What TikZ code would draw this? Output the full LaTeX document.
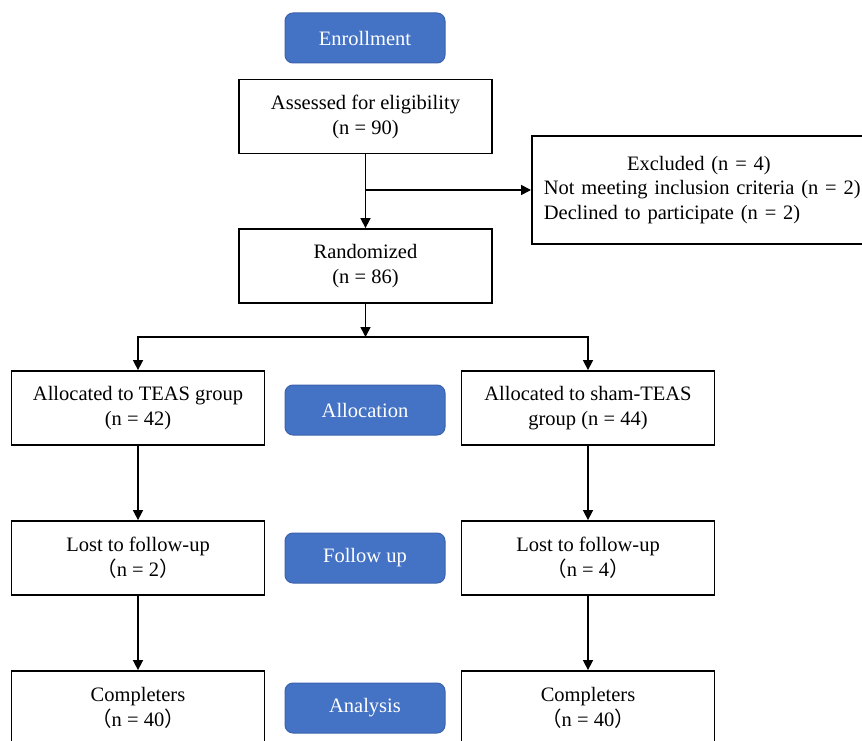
\documentclass[tikz,border=0pt]{standalone}
\usepackage{fontspec}
\setmainfont{Liberation Serif}
\newfontfamily\cjkfont{Noto Sans CJK SC}
\usetikzlibrary{arrows.meta}
\definecolor{btnblue}{HTML}{4472C4}
\definecolor{btnedge}{HTML}{3B63AE}
\newcommand{\lp}{{\cjkfont （}}
\newcommand{\rp}{{\cjkfont ）}}
\tikzset{
  box/.style={draw=black, line width=1.8pt, minimum width=253pt, minimum height=74pt,
    inner sep=0pt, align=center, font=\fontsize{20.5}{25}\selectfont},
  btn/.style={draw=btnedge, line width=1pt, fill=btnblue, rounded corners=8pt,
    minimum width=160pt, minimum height=50pt, inner sep=0pt, text=white,
    font=\fontsize{20.5}{25}\selectfont},
  arr/.style={line width=1.6pt, -{Triangle[length=10pt,width=10pt]}},
  ln/.style={line width=1.6pt}
}
\begin{document}
\begin{tikzpicture}[x=1pt,y=-1pt]
\clip (0,0) rectangle (862,741);
\useasboundingbox (0,0) rectangle (862,741);
\fill[white] (0,0) rectangle (862,741);

\node[btn] (enroll) at (365,38) {Enrollment};
\node[box] (assess) at (365.5,116.5) {Assessed for eligibility\\(n = 90)};
\node[box, anchor=west, minimum width=380pt, minimum height=108pt, align=left,
      text width=356pt, inner xsep=12pt, font=\fontsize{20.5}{24.5}\selectfont]
      (excl) at (531,190)
      {\makebox[310pt][c]{Excluded (n = 4)}\\Not meeting inclusion criteria (n = 2)\\Declined to participate (n = 2)};
\node[box] (rand) at (365.5,266) {Randomized\\(n = 86)};

\node[box] (teas) at (138,408) {Allocated to TEAS group\\(n = 42)};
\node[btn] (alloc) at (365,410) {Allocation};
\node[box] (sham) at (588,408) {Allocated to sham-TEAS\\group (n = 44)};

\node[box] (lost1) at (138,558) {Lost to follow-up\\\lp n = 2\rp};
\node[btn] (fu) at (365,558) {Follow up};
\node[box] (lost2) at (588,558) {Lost to follow-up\\\lp n = 4\rp};

\node[box] (comp1) at (138,708) {Completers\\\lp n = 40\rp};
\node[btn] (an) at (365,708) {Analysis};
\node[box] (comp2) at (588,708) {Completers\\\lp n = 40\rp};

\coordinate (branch) at (assess.south |- excl.west);
\coordinate (split) at (365.5,337);

\draw[arr] (assess.south) -- (rand.north);
\draw[arr] (branch) -- (excl.west);
\draw[arr] (rand.south) -- (split);
\draw[arr] (split) -| (teas.north);
\draw[arr] (split) -| (sham.north);
\draw[arr] (teas.south) -- (lost1.north);
\draw[arr] (sham.south) -- (lost2.north);
\draw[arr] (lost1.south) -- (comp1.north);
\draw[arr] (lost2.south) -- (comp2.north);
\end{tikzpicture}
\end{document}
